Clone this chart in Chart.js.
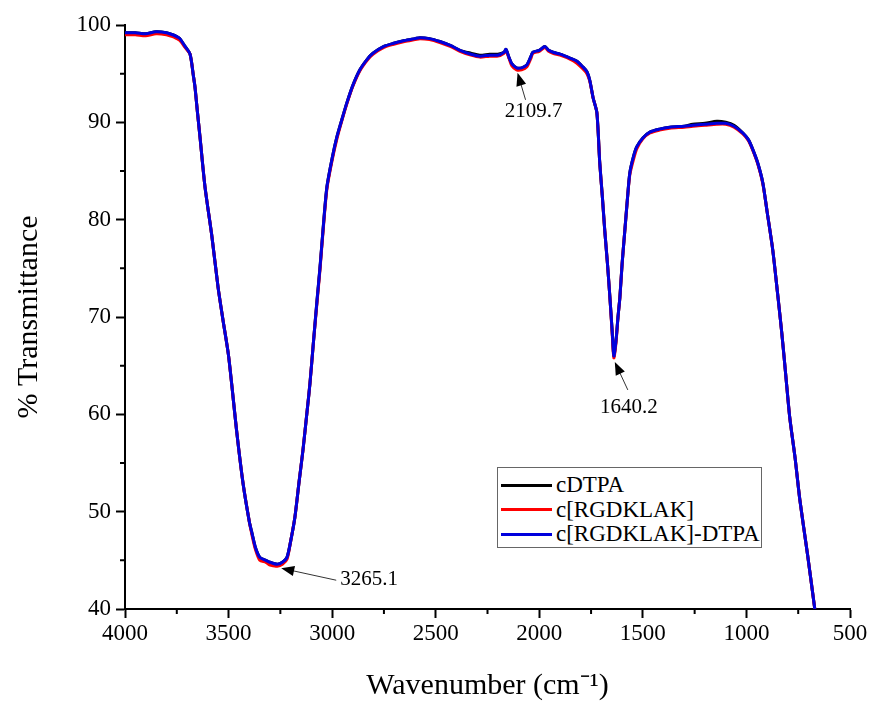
<!DOCTYPE html>
<html>
<head>
<meta charset="utf-8">
<script src="https://cdn.jsdelivr.net/npm/chart.js@4.4.0/dist/chart.umd.min.js"></script>
<style>
  body { margin: 0; background: #fff; }
  #wrap { position: relative; width: 871px; height: 704px; }
  #legend {
    position: absolute; left: 497px; top: 467px; width: 265px; height: 81px;
    border: 1px solid #666; background: #fff;
    font-family: "Liberation Serif", "Times New Roman", serif; font-size: 23px; color: #000;
    padding-top: 5px; box-sizing: border-box;
  }
  #legend .row { display: flex; align-items: center; height: 24.5px; white-space: nowrap; }
  #legend .swatch { width: 51px; height: 3px; margin-left: 3px; margin-right: 4px; flex: none; }
</style>
</head>
<body>
<div id="wrap">
  <canvas id="ftir" width="871" height="704"></canvas>
  <div id="legend"></div>
</div>
<script>
// wavenumber (cm-1) and % transmittance
const wavenumber = [4000,3950,3900,3850,3800,3770,3750,3735,3710,3686,
  3670,3662,3650,3638,3614,3580,3551,3527,3500,3460,
  3430,3400,3387,3370,3349,3320,3300,3265,3240,3218,
  3200,3180,3160,3141,3120,3107,3090,3073,3059,3040,
  3025,3000,2977,2950,2929,2900,2866,2830,2803,2750,
  2707,2650,2600,2576,2530,2480,2430,2383,2330,2287,
  2240,2200,2170,2161,2145,2132,2110,2085,2060,2040,
  2031,2000,1973,1955,1934,1900,1852,1820,1790,1770,
  1756,1740,1722,1708,1696,1684,1671,1659,1648,1640,
  1630,1620,1611,1600,1587,1575,1563,1545,1529,1500,
  1466,1420,1370,1300,1259,1200,1143,1100,1060,1017,
  990,969,945,921,900,873,850,829,810,791,
  765,742,705,670];

const cDTPA = [99.2,99.2,99.1,99.3,99.2,99.0,98.8,98.6,97.8,97.0,
  94.8,93.6,91.0,88.5,83.4,78.2,73.1,69.7,66.0,58.1,
  52.9,49.0,47.8,46.3,45.3,45.0,44.8,44.6,44.8,45.3,
  47.0,49.4,53.0,56.3,60.5,63.2,67.5,71.7,75.0,80.0,
  83.4,86.3,88.5,90.5,92.0,93.8,95.4,96.5,97.1,97.8,
  98.1,98.4,98.6,98.7,98.6,98.3,97.9,97.4,97.1,96.9,
  97.0,97.0,97.2,97.5,96.6,96.0,95.6,95.6,95.9,96.8,
  97.2,97.4,97.8,97.4,97.2,97.0,96.6,96.3,95.7,95.2,
  94.3,92.5,91.0,85.8,82.5,78.9,75.5,72.0,68.5,66.0,
  67.5,70.0,72.0,75.5,78.9,82.0,84.8,86.5,87.5,88.4,
  89.0,89.3,89.5,89.6,89.8,89.9,90.1,90.0,89.7,88.9,
  88.2,87.2,85.8,83.8,80.8,76.9,72.5,68.3,64.0,59.7,
  55.5,51.2,45.6,40.0];

const cRGDKLAK = [99.0,99.0,98.9,99.1,99.0,98.8,98.6,98.4,97.7,97.0,
  94.8,93.6,91.0,88.5,83.4,78.2,73.1,69.7,66.0,58.1,
  52.9,49.0,47.6,46.1,45.0,44.8,44.5,44.4,44.6,45.1,
  47.0,49.4,53.0,56.3,60.5,63.2,67.5,71.5,74.8,79.8,
  83.2,86.1,88.3,90.4,91.9,93.7,95.3,96.4,97.0,97.7,
  98.0,98.3,98.5,98.6,98.5,98.2,97.8,97.3,96.9,96.7,
  96.8,96.8,97.1,97.4,96.5,95.8,95.4,95.4,95.7,96.6,
  97.1,97.3,97.7,97.3,97.1,96.9,96.5,96.1,95.5,95.0,
  94.2,92.5,91.0,85.8,82.5,78.9,75.5,72.0,68.3,65.8,
  67.3,70.0,72.0,75.5,78.9,82.0,84.6,86.2,87.3,88.3,
  88.9,89.2,89.4,89.5,89.6,89.7,89.8,89.8,89.5,88.8,
  88.1,87.1,85.7,83.7,80.8,76.9,72.5,68.3,64.0,59.7,
  55.5,51.2,45.6,40.0];

const cRGDKLAK_DTPA = [99.2,99.2,99.1,99.3,99.2,99.0,98.8,98.6,97.8,97.0,
  94.8,93.6,91.0,88.5,83.4,78.2,73.1,69.7,66.0,58.1,
  52.9,49.0,47.8,46.3,45.3,45.0,44.8,44.6,44.8,45.3,
  47.0,49.4,53.0,56.3,60.5,63.2,67.5,71.7,75.0,80.0,
  83.4,86.3,88.5,90.5,92.0,93.8,95.4,96.5,97.1,97.8,
  98.1,98.4,98.6,98.7,98.6,98.3,97.9,97.4,97.0,96.8,
  96.9,96.9,97.2,97.5,96.6,96.0,95.6,95.6,95.9,96.8,
  97.2,97.4,97.8,97.4,97.2,97.0,96.6,96.3,95.7,95.2,
  94.3,92.5,91.0,85.8,82.5,78.9,75.5,72.0,68.5,66.0,
  67.5,70.0,72.0,75.5,78.9,82.0,84.8,86.5,87.5,88.4,
  89.0,89.3,89.5,89.6,89.7,89.8,89.9,89.9,89.6,88.9,
  88.2,87.2,85.8,83.8,80.8,76.9,72.5,68.3,64.0,59.7,
  55.5,51.2,45.6,40.0];

const seriesNames = ['cDTPA', 'c[RGDKLAK]', 'c[RGDKLAK]-DTPA'];
const seriesColors = ['#000000', '#ff0000', '#0000dd'];

// labelled peaks
const peakWn = [3265.1, 2109.7, 1640.2];
const peakT = [44.6, 95.6, 66.0];
const peakLabels = ['3265.1', '2109.7', '1640.2'];

const serif = '"Liberation Serif", "Times New Roman", serif';

function toPoints(ys) {
  return wavenumber.map((w, i) => ({ x: w, y: ys[i] }));
}

// short ticks between the labelled ones
const minorTicks = {
  id: 'minorTicks',
  afterDraw(chart) {
    const { ctx, scales: { x, y } } = chart;
    ctx.save();
    ctx.strokeStyle = '#000';
    ctx.lineWidth = 2;
    ctx.beginPath();
    for (let v = x.min + 250; v < x.max; v += 500) {
      const px = x.getPixelForValue(v);
      ctx.moveTo(px, x.top);
      ctx.lineTo(px, x.top + 5);
    }
    for (let v = y.min + 5; v < y.max; v += 10) {
      const py = y.getPixelForValue(v);
      ctx.moveTo(y.right, py);
      ctx.lineTo(y.right - 5, py);
    }
    ctx.stroke();
    ctx.restore();
  }
};

// arrows + wavenumber labels at the peaks
const peakArrows = {
  id: 'peakArrows',
  afterDatasetsDraw(chart) {
    const { ctx, scales: { x, y } } = chart;
    // tail offset from tip, label offset from tip, text align
    const layout = [
      { tail: [55, 12], text: [59, 11], align: 'left', tip: [4, 4] },
      { tail: [8, 27], text: [16, 39], align: 'center', tip: [1, 5] },
      { tail: [13, 28], text: [14, 46], align: 'center', tip: [1, 6] }
    ];
    ctx.save();
    ctx.fillStyle = '#000';
    ctx.strokeStyle = '#333';
    ctx.lineWidth = 1;
    ctx.font = '21px ' + serif;
    ctx.textBaseline = 'middle';
    peakWn.forEach((w, i) => {
      const l = layout[i];
      const tx = x.getPixelForValue(w) + l.tip[0];
      const ty = y.getPixelForValue(peakT[i]) + l.tip[1];
      const bx = tx + l.tail[0];
      const by = ty + l.tail[1];
      const ang = Math.atan2(ty - by, tx - bx);
      ctx.beginPath();
      ctx.moveTo(bx, by);
      ctx.lineTo(tx - 10 * Math.cos(ang), ty - 10 * Math.sin(ang));
      ctx.stroke();
      ctx.beginPath();
      ctx.moveTo(tx, ty);
      ctx.lineTo(tx - 13 * Math.cos(ang) + 5 * Math.sin(ang), ty - 13 * Math.sin(ang) - 5 * Math.cos(ang));
      ctx.lineTo(tx - 13 * Math.cos(ang) - 5 * Math.sin(ang), ty - 13 * Math.sin(ang) + 5 * Math.cos(ang));
      ctx.closePath();
      ctx.fill();
      ctx.textAlign = l.align;
      ctx.fillText(peakLabels[i], tx + l.text[0], ty + l.text[1]);
    });
    ctx.restore();
  }
};

const ctx = document.getElementById('ftir').getContext('2d');
const chart = new Chart(ctx, {
  type: 'line',
  data: {
    datasets: [cDTPA, cRGDKLAK, cRGDKLAK_DTPA].map((ys, i) => ({
      label: seriesNames[i],
      data: toPoints(ys),
      borderColor: seriesColors[i],
      borderWidth: 3,
      pointRadius: 0,
      tension: 0.25,
      fill: false,
      order: 2 - i
    }))
  },
  options: {
    responsive: false,
    animation: false,
    layout: { padding: { top: 25, right: 21, left: 0, bottom: 0 } },
    plugins: {
      legend: { display: false },
      tooltip: { enabled: false }
    },
    scales: {
      x: {
        type: 'linear',
        reverse: true,
        min: 500,
        max: 4000,
        ticks: {
          stepSize: 500, color: '#000', padding: 2,
          font: { family: serif, size: 23 },
          callback: v => String(v)
        },
        grid: { drawOnChartArea: false, drawTicks: true, tickLength: 9, tickWidth: 2, tickColor: '#000' },
        border: { color: '#000', width: 2 },
        title: { display: true, text: 'Wavenumber (cm\u207B\u00B9)', color: '#000', font: { family: serif, size: 30 }, padding: 0 },
        afterFit(scale) { scale.height = 95; }
      },
      y: {
        min: 40,
        max: 100,
        ticks: {
          stepSize: 10, color: '#000', padding: 5,
          font: { family: serif, size: 23 },
          callback: v => String(v)
        },
        grid: { drawOnChartArea: false, drawTicks: true, tickLength: 9, tickWidth: 2, tickColor: '#000' },
        border: { color: '#000', width: 2 },
        title: { display: true, text: '% Transmittance', color: '#000', font: { family: serif, size: 30 }, padding: { top: 11 } },
        afterFit(scale) { scale.width = 125; }
      }
    }
  },
  plugins: [minorTicks, peakArrows]
});

// legend box built from the datasets
const legendEl = document.getElementById('legend');
chart.data.datasets.forEach(ds => {
  const row = document.createElement('div');
  row.className = 'row';
  const sw = document.createElement('span');
  sw.className = 'swatch';
  sw.style.background = ds.borderColor;
  const txt = document.createElement('span');
  txt.textContent = ds.label;
  row.appendChild(sw);
  row.appendChild(txt);
  legendEl.appendChild(row);
});
</script>
</body>
</html>
